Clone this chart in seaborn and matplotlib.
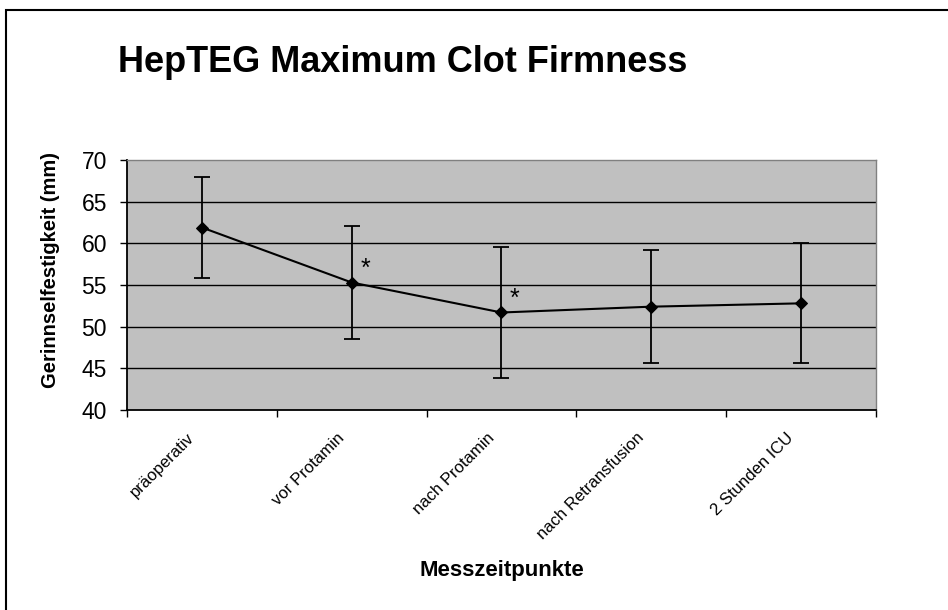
import matplotlib
matplotlib.use("Agg")
import matplotlib.pyplot as plt
from matplotlib.patches import Rectangle
from matplotlib.transforms import ScaledTranslation
import numpy as np
import pandas as pd
import seaborn as sns

# Measurement time points and HepTEG maximum clot firmness (mean ± SD, mm)
zeitpunkte = ["präoperativ", "vor Protamin", "nach Protamin",
              "nach Retransfusion", "2 Stunden ICU"]
mcf_mittel = [61.9, 55.3, 51.7, 52.4, 52.8]
mcf_sd = [6.1, 6.8, 7.9, 6.8, 7.2]
signifikant = [False, True, True, False, False]
y_ticks = [40, 45, 50, 55, 60, 65, 70]

sns.set_style("white")
plt.rcParams["font.family"] = ["Liberation Sans", "DejaVu Sans"]
plt.rcParams["text.color"] = "black"
plt.rcParams["axes.labelcolor"] = "black"
plt.rcParams["xtick.color"] = "black"
plt.rcParams["ytick.color"] = "black"

df = pd.DataFrame({"Zeitpunkt": zeitpunkte, "MCF": mcf_mittel,
                   "SD": mcf_sd, "pos": np.arange(len(zeitpunkte))})

fig = plt.figure(figsize=(9.48, 6.10), dpi=100)
ax = fig.add_axes([127 / 948, 1 - 410 / 610, 749 / 948, 250 / 610])
ax.set_facecolor("#C0C0C0")

# horizontal gridlines
for y in y_ticks[1:-1]:
    ax.axhline(y, color="black", lw=1.0, zorder=1)

# error bars (± SD)
ax.errorbar(df["pos"], df["MCF"], yerr=df["SD"], fmt="none",
            ecolor="black", elinewidth=1.3, capsize=5.5, capthick=1.3, zorder=3)

# mean line with diamond markers
sns.lineplot(data=df, x="pos", y="MCF", ax=ax, color="black", lw=1.5,
             marker="D", markersize=6.5, markeredgecolor="black",
             markerfacecolor="black", zorder=4, legend=False)

# significance markers
for i, (m, sig) in enumerate(zip(mcf_mittel, signifikant)):
    if sig:
        ax.text(i + 0.09, m + 1.6, "*", fontsize=18, ha="center",
                va="center", color="black", zorder=5)

ax.set_xlim(-0.5, len(zeitpunkte) - 0.5)
ax.set_ylim(40, 70)
ax.set_yticks(y_ticks)
ax.set_yticklabels([str(v) for v in y_ticks], fontsize=16.5)

# category labels, rotated 45° and ending just left of each category centre
ax.set_xticks(np.arange(len(zeitpunkte)))
ax.set_xticklabels([])
ax.tick_params(axis="x", which="major", length=0)
shift = ScaledTranslation(-15 / 100, -20 / 100, fig.dpi_scale_trans)
for i, name in enumerate(zeitpunkte):
    ax.text(i, 0, name, rotation=45, ha="right", va="top",
            rotation_mode="anchor", fontsize=12,
            transform=ax.get_xaxis_transform() + shift)

ax.set_xticks(np.arange(-0.5, len(zeitpunkte)), minor=True)
ax.tick_params(axis="x", which="minor", length=5, width=1, direction="out",
               color="black", bottom=True)
ax.tick_params(axis="y", length=5, width=1, direction="out", color="black",
               left=True, pad=9.4)

ax.set_xlabel("Messzeitpunkte", fontsize=16, fontweight="bold", va="top")
ax.xaxis.set_label_coords(0.5, -0.6)
ax.set_ylabel("Gerinnselfestigkeit (mm)", fontsize=14.5, fontweight="bold")
ax.yaxis.set_label_coords(-67 / 749, 0.56)

for side in ["left", "bottom"]:
    ax.spines[side].set_color("black")
    ax.spines[side].set_linewidth(1.3)
for side in ["top", "right"]:
    ax.spines[side].set_color("#808080")
    ax.spines[side].set_linewidth(1.0)

fig.text(118 / 948, 1 - 62 / 610, "HepTEG Maximum Clot Firmness",
         fontsize=26, fontweight="bold", ha="left", va="center")

# outer chart frame
fig.patches.append(Rectangle((6 / 948, -0.1), 1.2, 1.1 - 10 / 610,
                             transform=fig.transFigure, fill=False,
                             edgecolor="black", lw=1.5))

fig.savefig("out.png", dpi=100)
